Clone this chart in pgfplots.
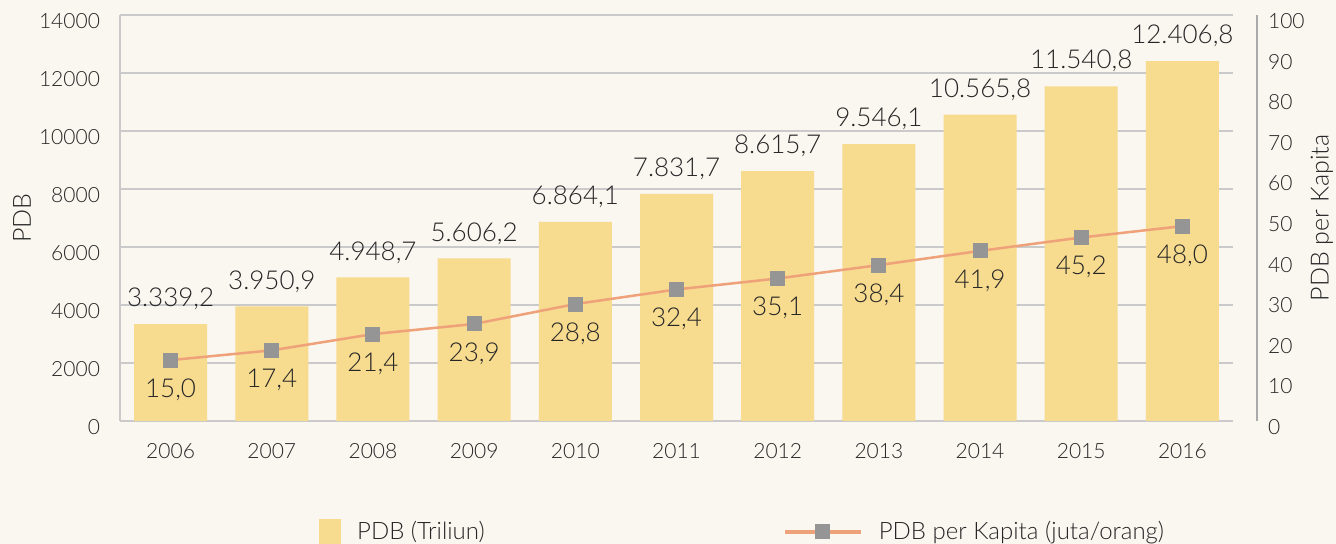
\documentclass[border=0pt]{standalone}
\usepackage{pgfplots}
\pgfplotsset{compat=1.18}
\usepackage{pgfplotstable}
\usepackage{fontspec}
\setmainfont{Lato}[UprightFont=* Light]
\definecolor{bg}{HTML}{FAF6F0}
\definecolor{barcol}{HTML}{F7DB8F}
\definecolor{linecol}{HTML}{EFA27A}
\definecolor{markcol}{HTML}{959595}
\definecolor{gridcol}{HTML}{CACACA}
\definecolor{txt}{HTML}{262626}
\pgfplotsset{
  line legend wide/.style={legend image code/.code={\draw[mark repeat=2,mark phase=2,##1, line width=2pt] plot coordinates {(0pt,0pt) (19pt,0pt) (38pt,0pt)};}},
  bar legend tall/.style={legend image code/.code={\fill[barcol] (0pt,-6pt) rectangle (10.5pt,6pt);}},
}
\pgfplotstableread{
x y lab
0 3339.2 3.339,2
1 3950.9 3.950,9
2 4948.7 4.948,7
3 5606.2 5.606,2
4 6864.1 6.864,1
5 7831.7 7.831,7
6 8615.7 8.615,7
7 9546.1 9.546,1
8 10565.8 10.565,8
9 11540.8 11.540,8
10 12406.8 12.406,8
}\pdb
\pgfplotstableread{
x y lab
0 15.0 15,0
1 17.4 17,4
2 21.4 21,4
3 23.9 23,9
4 28.8 28,8
5 32.4 32,4
6 35.1 35,1
7 38.4 38,4
8 41.9 41,9
9 45.2 45,2
10 48.0 48,0
}\kap
\begin{document}
\begin{tikzpicture}
\path[use as bounding box, fill=bg] (-60pt,-61.5pt) rectangle (608pt,210.5pt);
\begin{axis}[
  scale only axis, width=556.5pt, height=203pt,
  xmin=-0.5, xmax=10.5, ymin=0, ymax=14000,
  axis x line*=bottom, axis y line*=left,
  axis line style={gridcol, line width=0.75pt, -},
  ytick={0,2000,...,14000},
  scaled y ticks=false,
  xtick={0,...,10},
  xticklabels={2006,2007,2008,2009,2010,2011,2012,2013,2014,2015,2016},
  major tick length=0pt,
  ymajorgrids, grid style={gridcol, line width=0.75pt},
  /pgf/number format/1000 sep={},
  /pgf/number format/assume math mode=true,
  tick label style={font=\fontsize{10.5}{12}\selectfont, text=txt},
  yticklabel style={xshift=-6.5pt, yshift=-3pt},
  xticklabel style={yshift=-7.5pt},
  ylabel={PDB},
  ylabel style={at={(axis description cs:-0.088,0.5)}, anchor=center, font=\fontsize{12.5}{14}\selectfont, text=txt},
]
\addplot[ybar, bar width=36.5pt, fill=barcol, draw=none,
  nodes near coords, point meta=explicit symbolic,
  every node near coord/.append style={font=\fontsize{13}{15}\selectfont, text=txt, anchor=south, yshift=3.5pt}]
  table[x=x, y=y, meta=lab] {\pdb};
\end{axis}
\begin{axis}[
  scale only axis, width=568.5pt, height=203pt,
  xmin=-0.5, xmax=10.737, ymin=0, ymax=100,
  axis x line=none, axis y line*=right,
  axis line style={markcol!80, line width=1pt, -},
  ytick={0,10,...,100},
  major tick length=0pt,
  /pgf/number format/assume math mode=true,
  tick label style={font=\fontsize{10.5}{12}\selectfont, text=txt},
  yticklabel style={xshift=2pt, yshift=-3pt},
  ylabel={PDB per Kapita},
  ylabel style={at={(axis description cs:1.057,0.5)}, anchor=center, font=\fontsize{12.5}{14}\selectfont, text=txt},
  legend columns=2,
  legend style={draw=none, fill=none, at={(0.175,-0.273)}, anchor=west,
    font=\fontsize{12}{14}\selectfont, text=txt, inner sep=0pt,
    /tikz/column 1/.style={column sep=6pt},
    /tikz/column 2/.style={column sep=147pt},
    /tikz/column 3/.style={column sep=6pt}},
]
\addlegendimage{bar legend tall}
\addlegendentry{PDB (Triliun)}
\addplot[linecol, line width=1.25pt, mark=square*, mark size=3.5pt,
  mark options={fill=markcol, draw=markcol, line width=0pt},
  nodes near coords, point meta=explicit symbolic,
  every node near coord/.append style={font=\fontsize{13}{15}\selectfont, text=txt, anchor=north, yshift=-6pt},
  line legend wide]
  table[x=x, y=y, meta=lab] {\kap};
\addlegendentry{PDB per Kapita (juta/orang)}
\end{axis}
\end{tikzpicture}
\end{document}
